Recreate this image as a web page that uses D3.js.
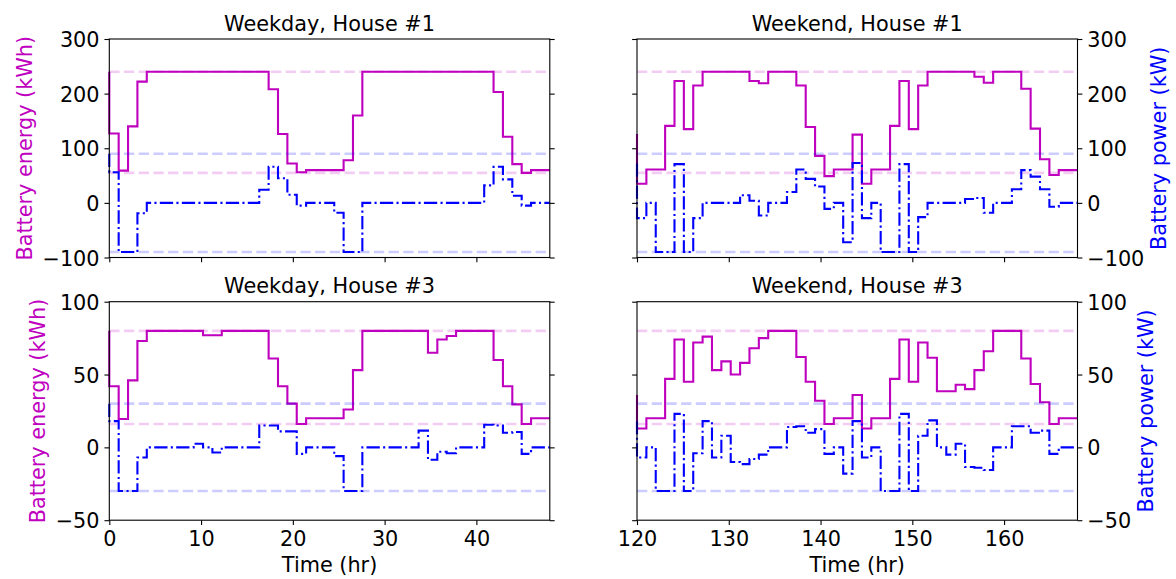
<!DOCTYPE html>
<html>
<head>
<meta charset="utf-8">
<script src="https://cdn.jsdelivr.net/npm/d3@7"></script>
<style>
  body { margin: 0; background: #fff; }
  text { font-family: "DejaVu Sans", sans-serif; }
</style>
</head>
<body>
<svg id="chart" width="1176" height="579"></svg>
<script>
// samples per day-pair (np.linspace style grid, 48 points over 48 h)
const nPoints = 48;
const weekdayRange = [0, 48];
const weekendRange = [120, 168];
const xTicksWeekday = [0, 10, 20, 30, 40];
const xTicksWeekend = [120, 130, 140, 150, 160];

const yTicksHouse1 = [-100, 0, 100, 200, 300];
const yTicksHouse3 = [-50, 0, 50, 100];
const energyBoundsHouse1 = [55, 240];
const powerBoundsHouse1 = [-90, 90];
const energyBoundsHouse3 = [16, 80];
const powerBoundsHouse3 = [-30, 30];

// battery energy (kWh), step "pre" values
const energyWeekdayH1 = [240, 127, 59, 140, 222,
  240, 240, 240, 240, 240, 240, 240, 240, 240, 240, 240, 240, 240,
  208, 126, 72, 56, 60, 60, 60, 60, 78, 160,
  240, 240, 240, 240, 240, 240, 240, 240, 240, 240, 240, 240, 240, 240,
  203, 121, 71, 55, 60, 60];
const powerWeekdayH1 = [90, 56, -90, -90, -19,
  0, 0, 0, 0, 0, 0, 0, 0, 0, 0, 0, 0,
  24, 66, 45, 15, -5, 0, 0, 0, -18, -90, -90,
  0, 0, 0, 0, 0, 0, 0, 0, 0, 0, 0, 0, 0,
  32, 66, 43, 13, -5, 0, 0];

const energyWeekendH1 = [126, 35, 61, 61, 141, 223, 135, 215,
  240, 240, 240, 240, 240, 223, 219, 240, 240, 240,
  215, 139, 86, 49, 61, 61, 125,
  35, 61, 61, 141, 223, 135, 215,
  240, 240, 240, 240, 240, 231, 220, 240, 240, 240,
  209, 136, 80, 51, 60, 60];
const powerWeekendH1 = [72, -28, 0, -90, -90, 71, -90, -28,
  0, 0, 0, 0, 14, 4, -23, 0, 0,
  20, 61, 44, 30, -11, 0, -72, 73,
  -28, 0, -90, -90, 71, -90, -26,
  0, 0, 0, 0, 7, 9, -18, 0, 0,
  25, 60, 48, 25, -7, 0, 0];

const energyWeekdayH3 = [80, 42, 19.5, 46, 73,
  80, 80, 80, 80, 80, 80, 77, 77, 80, 80, 80, 80, 80,
  61, 42, 30, 16, 20, 20, 20, 20, 26, 53,
  80, 80, 80, 80, 80, 80, 80, 65, 74, 76.5, 80, 80, 80, 80,
  60, 42, 29.5, 16, 20, 20];
const powerWeekdayH3 = [30, 18, -30, -30, -7,
  0, 0, 0, 0, 0, 2.5, 0, -3.5, 0, 0, 0, 0,
  15, 15, 11, 11, -4.5, 0, 0, 0, -6, -30, -30,
  0, 0, 0, 0, 0, 0, 11.5, -8.5, -3, -4, 0, 0, 0,
  15.5, 15, 10, 10.5, -4.5, 0, 0];

const energyWeekendH3 = [36, 13, 20, 20, 47, 74, 45, 72, 76, 53, 59, 50, 58, 68, 75,
  80, 80, 80, 62, 45, 32, 16, 20, 20, 36,
  13, 20, 20, 47, 74, 45, 72, 61.5, 38.5, 38.5, 43, 40, 53, 66,
  80, 80, 80, 61, 43.5, 31, 16, 20, 20];
const powerWeekendH3 = [18, -7, 0, -30, -30, 23, -30, -4, 18, -7, 8, -10, -11.5, -8, -5,
  0, 0, 14, 14.5, 10, 12.5, -4.5, 0, -18, 18,
  -7, 0, -30, -30, 23, -30, 8, 18.5, 0, -5, 2.5, -13.5, -14, -15.5,
  0, 0, 14.5, 14.5, 10, 11.5, -4.5, 0, 0];

const panels = [
  { title: "Weekday, House #1", range: weekdayRange, xTicks: xTicksWeekday, yTicks: yTicksHouse1,
    energy: energyWeekdayH1, power: powerWeekdayH1, eBounds: energyBoundsHouse1, pBounds: powerBoundsHouse1,
    left: 109.3, top: 39, col: 0, row: 0 },
  { title: "Weekend, House #1", range: weekendRange, xTicks: xTicksWeekend, yTicks: yTicksHouse1,
    energy: energyWeekendH1, power: powerWeekendH1, eBounds: energyBoundsHouse1, pBounds: powerBoundsHouse1,
    left: 637, top: 39, col: 1, row: 0 },
  { title: "Weekday, House #3", range: weekdayRange, xTicks: xTicksWeekday, yTicks: yTicksHouse3,
    energy: energyWeekdayH3, power: powerWeekdayH3, eBounds: energyBoundsHouse3, pBounds: powerBoundsHouse3,
    left: 109.3, top: 301.7, col: 0, row: 1 },
  { title: "Weekend, House #3", range: weekendRange, xTicks: xTicksWeekend, yTicks: yTicksHouse3,
    energy: energyWeekendH3, power: powerWeekendH3, eBounds: energyBoundsHouse3, pBounds: powerBoundsHouse3,
    left: 637, top: 301.7, col: 1, row: 1 }
];

const width = 440.5;
const height = 218.5;
const fontSize = 20.8;
const tickLen = 4.86;
const magenta = "#bf00bf";
const blue = "#0000ff";

const svg = d3.select("#chart");

function styleAxis(g) {
  g.select(".domain").remove();
  g.selectAll(".tick line").attr("stroke", "#000").attr("stroke-width", 1.1);
  g.selectAll(".tick text").attr("fill", "#000");
  g.attr("font-size", fontSize).attr("font-family", "DejaVu Sans");
}

panels.forEach(p => {
  const g = svg.append("g").attr("transform", `translate(${p.left},${p.top})`);

  const x = d3.scaleLinear().domain(p.range).range([0, width]);
  const y = d3.scaleLinear().domain(d3.extent(p.yTicks)).range([height, 0]);
  const step = (p.range[1] - p.range[0]) / (nPoints - 1);
  const times = d3.range(nPoints).map(k => p.range[0] + k * step);

  const line = d3.line()
    .x((d, i) => x(times[i]))
    .y(d => y(d))
    .curve(d3.curveStepBefore);

  // energy limits + energy
  g.selectAll(".ebound")
    .data(p.eBounds)
    .enter()
    .append("line")
    .attr("x1", 0).attr("x2", width)
    .attr("y1", d => y(d)).attr("y2", d => y(d))
    .attr("stroke", magenta)
    .attr("stroke-opacity", 0.2)
    .attr("stroke-width", 2.6)
    .attr("stroke-dasharray", "10.3,4.4");

  g.append("path")
    .datum(p.energy)
    .attr("d", line)
    .attr("fill", "none")
    .attr("stroke", magenta)
    .attr("stroke-width", 2.1);

  // power limits + power
  g.selectAll(".pbound")
    .data(p.pBounds)
    .enter()
    .append("line")
    .attr("x1", 0).attr("x2", width)
    .attr("y1", d => y(d)).attr("y2", d => y(d))
    .attr("stroke", blue)
    .attr("stroke-opacity", 0.2)
    .attr("stroke-width", 2.6)
    .attr("stroke-dasharray", "10.3,4.4");

  g.append("path")
    .datum(p.power)
    .attr("d", line)
    .attr("fill", "none")
    .attr("stroke", blue)
    .attr("stroke-width", 2.1)
    .attr("stroke-dasharray", "13.3,3.3,2.1,3.3");

  // axes
  const leftAxis = d3.axisLeft(y).tickValues(p.yTicks).tickSize(tickLen).tickPadding(tickLen);
  if (p.col === 1) leftAxis.tickFormat("");
  g.append("g").call(leftAxis).call(styleAxis)
    .selectAll(".tick text").attr("dy", "0.36em");

  const rightAxis = d3.axisRight(y).tickValues(p.yTicks).tickSize(tickLen).tickPadding(tickLen);
  if (p.col === 0) rightAxis.tickFormat("");
  g.append("g").attr("transform", `translate(${width},0)`).call(rightAxis).call(styleAxis)
    .selectAll(".tick text").attr("dy", "0.36em");

  const bottomAxis = d3.axisBottom(x).tickValues(p.xTicks).tickSize(tickLen).tickPadding(tickLen);
  if (p.row === 0) bottomAxis.tickFormat("");
  g.append("g").attr("transform", `translate(0,${height})`).call(bottomAxis).call(styleAxis)
    .selectAll(".tick text").attr("dy", "0.76em");

  g.append("rect")
    .attr("width", width).attr("height", height)
    .attr("fill", "none").attr("stroke", "#000").attr("stroke-width", 1.1);

  g.append("text")
    .attr("x", width / 2).attr("y", -8.3)
    .attr("text-anchor", "middle")
    .attr("font-size", fontSize)
    .text(p.title);

  if (p.row === 1) {
    g.append("text")
      .attr("x", width / 2).attr("y", height + 52)
      .attr("text-anchor", "middle")
      .attr("font-size", fontSize)
      .text("Time (hr)");
  }

  // y labels sit next to the widest tick label
  const labelW = d3.max(p.yTicks, t => (t < 0 ? 0.838 : 0) + String(Math.abs(t)).length * 0.636) * fontSize;
  if (p.col === 0) {
    const bx = -2 * tickLen - labelW - 5.6 - 4.9;
    g.append("text")
      .attr("transform", `translate(${bx},${height / 2}) rotate(-90)`)
      .attr("text-anchor", "middle")
      .attr("font-size", fontSize)
      .attr("fill", magenta)
      .text("Battery energy (kWh)");
  } else {
    const bx = width + 2 * tickLen + labelW + 5.6 + 15.8;
    g.append("text")
      .attr("transform", `translate(${bx},${height / 2}) rotate(-90)`)
      .attr("text-anchor", "middle")
      .attr("font-size", fontSize)
      .attr("fill", blue)
      .text("Battery power (kW)");
  }
});
</script>
</body>
</html>
